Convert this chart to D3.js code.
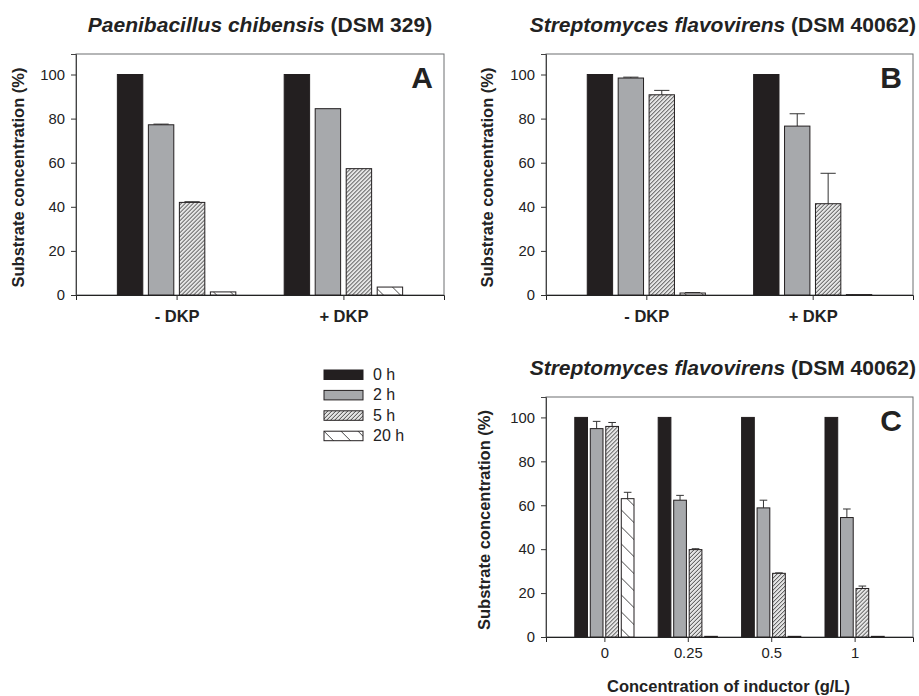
<!DOCTYPE html>
<html>
<head>
<meta charset="utf-8">
<script src="https://cdn.jsdelivr.net/npm/d3@7"></script>
<style>
  body { margin: 0; background: #fff; }
  svg { display: block; font-family: "Liberation Sans", Arial, sans-serif; }
</style>
</head>
<body>
<div id="chart"></div>
<script>
// series (incubation time)
const series = ["0 h", "2 h", "5 h", "20 h"];

// panel A - Paenibacillus chibensis
const catsA = ["- DKP", "+ DKP"];
const valuesA = [[100, 77.2, 42.0, 1.4], [100, 84.5, 57.3, 3.6]];
const errorsA = [[0, 0.3, 0.3, 0], [0, 0, 0, 0]];

// panel B - Streptomyces flavovirens, DKP
const catsB = ["- DKP", "+ DKP"];
const valuesB = [[100, 98.4, 90.8, 0.9], [100, 76.6, 41.4, 0.2]];
const errorsB = [[0, 0.4, 2.0, 0.2], [0, 5.6, 13.8, 0]];

// panel C - Streptomyces flavovirens, inductor concentration
const catsC = ["0", "0.25", "0.5", "1"];
const valuesC = [[100, 94.9, 95.9, 63.0], [100, 62.3, 39.8, 0.3], [100, 58.8, 29.0, 0.3], [100, 54.4, 22.1, 0.3]];
const errorsC = [[0, 3.3, 1.8, 2.9], [0, 2.2, 0.4, 0], [0, 3.5, 0.2, 0], [0, 3.9, 1.1, 0]];

const yTicks = [0, 20, 40, 60, 80, 100];

const width = 919, height = 696;
const ink = "#231f20";

const svg = d3.select("#chart").append("svg")
  .attr("width", width)
  .attr("height", height);

const defs = svg.append("defs");

const p5 = defs.append("pattern")
  .attr("id", "hatch5")
  .attr("patternUnits", "userSpaceOnUse")
  .attr("width", 4).attr("height", 4);
p5.append("rect").attr("width", 4).attr("height", 4).attr("fill", "#e4e4e4");
p5.append("path")
  .attr("d", "M-1,1L1,-1M0,4L4,0M3,5L5,3")
  .attr("stroke", "#333").attr("stroke-width", 0.9);

const p20 = defs.append("pattern")
  .attr("id", "hatch20")
  .attr("patternUnits", "userSpaceOnUse")
  .attr("width", 17).attr("height", 17);
p20.append("rect").attr("width", 17).attr("height", 17).attr("fill", "#fff");
p20.append("path")
  .attr("d", "M0,0L17,17M-4,13L4,21M13,-4L21,4")
  .attr("stroke", "#333").attr("stroke-width", 0.9);

const fills = ["#231f20", "#a7a9ac", "url(#hatch5)", "url(#hatch20)"];

function drawPanel(opt) {
  const g = svg.append("g");
  const { left, right, top, bottom } = opt;

  const y = d3.scaleLinear().domain([0, 109.3]).range([bottom, top]);
  const x0 = d3.scalePoint().domain(opt.cats).range([left, right]).padding(opt.pad);
  const groupW = x0.step() * 0.71;
  const x1 = d3.scaleBand().domain(series).range([-groupW / 2, groupW / 2]).paddingInner(0.18);

  // frame
  g.append("rect")
    .attr("x", left).attr("y", top)
    .attr("width", right - left).attr("height", bottom - top)
    .attr("fill", "none").attr("stroke", "#6d6e70").attr("stroke-width", 1);

  const rows = opt.cats.map((c, i) => ({ cat: c, vals: opt.values[i], errs: opt.errors[i] }));

  const grp = g.selectAll(".grp")
    .data(rows)
    .enter().append("g")
    .attr("transform", d => `translate(${x0(d.cat)},0)`);

  const bars = grp.selectAll(".bar")
    .data(d => series.map((s, j) => ({ s, j, v: d.vals[j], e: d.errs[j] })))
    .enter();

  // error bars (upper only)
  bars.filter(d => d.e > 0).append("path")
    .attr("d", d => {
      const cx = x1(d.s) + x1.bandwidth() / 2;
      const cw = x1.bandwidth() * 0.3;
      return `M${cx},${y(d.v)}V${y(d.v + d.e)}M${cx - cw},${y(d.v + d.e)}H${cx + cw}`;
    })
    .attr("stroke", "#333").attr("stroke-width", 1).attr("fill", "none");

  bars.append("rect")
    .attr("x", d => x1(d.s))
    .attr("y", d => y(d.v))
    .attr("width", x1.bandwidth())
    .attr("height", d => y(0) - y(d.v))
    .attr("fill", d => fills[d.j])
    .attr("stroke", ink).attr("stroke-width", 1);

  // y axis
  const ya = g.append("g")
    .attr("transform", `translate(${left},0)`)
    .call(d3.axisLeft(y).tickValues(yTicks).tickSize(5).tickPadding(6));
  ya.select(".domain").attr("stroke", "#444");
  ya.selectAll(".tick line").attr("stroke", "#333");
  ya.selectAll("text")
    .attr("font-size", 14.8).attr("fill", "#222")
    .attr("font-family", "Liberation Sans, Arial, sans-serif");

  // x axis
  const xa = g.append("g")
    .attr("transform", `translate(0,${bottom})`)
    .call(d3.axisBottom(x0).tickSize(5).tickPadding(opt.xPad));
  xa.select(".domain").attr("stroke", "#222");
  xa.selectAll(".tick line").attr("stroke", "#333");
  xa.selectAll("text")
    .attr("font-size", opt.xSize).attr("font-weight", opt.xBold ? "bold" : "normal")
    .attr("fill", "#222")
    .attr("font-family", "Liberation Sans, Arial, sans-serif");

  // y label
  g.append("text")
    .attr("transform", `translate(${opt.yLabX},${(top + bottom) / 2 + 3}) rotate(-90)`)
    .attr("text-anchor", "middle")
    .attr("font-size", 16.5).attr("font-weight", "bold").attr("fill", "#222")
    .text("Substrate concentration (%)");

  // title
  const t = g.append("text")
    .attr("y", opt.titleY)
    .attr("font-size", 21).attr("font-weight", "bold").attr("fill", "#222");
  t.append("tspan").attr("font-style", "italic").text(opt.species);
  t.append("tspan").text(" " + opt.strain);
  const tw = t.node().getComputedTextLength();
  const cx = Math.min((left + right) / 2, 916 - tw / 2);
  t.attr("x", cx - tw / 2);

  // panel letter
  g.append("text")
    .attr("x", right - 11).attr("y", top + 34)
    .attr("text-anchor", "end")
    .attr("font-size", 30).attr("font-weight", "bold").attr("fill", "#222")
    .text(opt.letter);

  if (opt.xTitle) {
    g.append("text")
      .attr("x", (left + right) / 2 - 1).attr("y", 692)
      .attr("text-anchor", "middle")
      .attr("font-size", 16.5).attr("font-weight", "bold").attr("fill", "#222")
      .text(opt.xTitle);
  }
}

drawPanel({
  left: 76, right: 444, top: 54, bottom: 295, pad: 0.603,
  cats: catsA, values: valuesA, errors: errorsA,
  species: "Paenibacillus chibensis", strain: "(DSM 329)", titleY: 32,
  letter: "A", yLabX: 24, xPad: 10, xSize: 16.5, xBold: true
});

drawPanel({
  left: 546, right: 913, top: 54, bottom: 295, pad: 0.603,
  cats: catsB, values: valuesB, errors: errorsB,
  species: "Streptomyces flavovirens", strain: "(DSM 40062)", titleY: 32,
  letter: "B", yLabX: 493, xPad: 10, xSize: 16.5, xBold: true
});

drawPanel({
  left: 546, right: 913, top: 397, bottom: 637, pad: 0.70,
  cats: catsC, values: valuesC, errors: errorsC,
  species: "Streptomyces flavovirens", strain: "(DSM 40062)", titleY: 375,
  letter: "C", yLabX: 490, xPad: 5, xSize: 14.8, xBold: false,
  xTitle: "Concentration of inductor (g/L)"
});

// legend
const legend = svg.append("g").attr("transform", "translate(324,370)");
const item = legend.selectAll(".item")
  .data(series)
  .enter().append("g")
  .attr("transform", (d, i) => `translate(0,${i * 20.4})`);
item.append("rect")
  .attr("width", 39).attr("height", 9.5)
  .attr("fill", (d, i) => fills[i])
  .attr("stroke", ink).attr("stroke-width", 1);
item.append("text")
  .attr("x", 49).attr("y", 10)
  .attr("font-size", 16).attr("fill", "#222")
  .text(d => d);
</script>
</body>
</html>
